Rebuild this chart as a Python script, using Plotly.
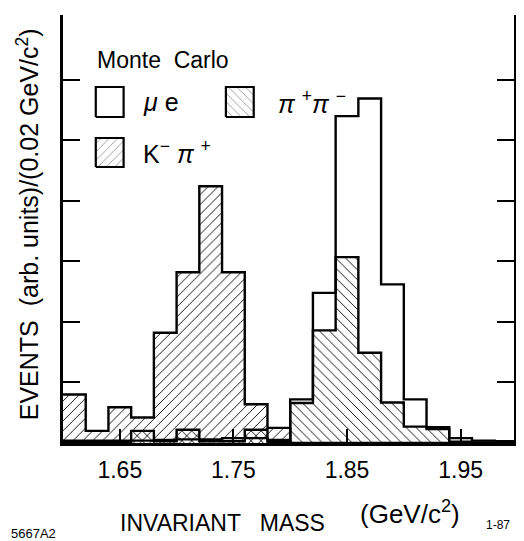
import plotly.graph_objects as go

# ---- data (bin edges in GeV/c^2, heights in arbitrary units) ----
edges = [1.60, 1.62, 1.64, 1.66, 1.68, 1.70, 1.72, 1.74, 1.76, 1.78, 1.80,
         1.82, 1.84, 1.86, 1.88, 1.90, 1.92, 1.94, 1.96, 1.98, 2.00]
mu_e = [0.04, 0.04, 0.04, 0.04, 0.05, 0.06, 0.06, 0.08, 0.08, 0.05,
        0.72, 2.48, 5.40, 5.69, 2.62, 0.72, 0.26, 0.08, 0.04, 0.03]
pipi = [0.02, 0.02, 0.02, 0.20, 0.03, 0.22, 0.03, 0.03, 0.22, 0.02,
        0.66, 1.86, 3.07, 1.49, 0.67, 0.27, 0.23, 0.02, 0.01, 0.01]
kpi = [0.80, 0.20, 0.59, 0.42, 1.82, 2.82, 4.24, 2.82, 0.64, 0.25,
       0.0, 0.0, 0.0, 0.0, 0.0, 0.0, 0.0, 0.0, 0.0, 0.0]
xtick_vals = [1.65, 1.75, 1.85, 1.95]
xtick_text = ["1.65", "1.75", "1.85", "1.95"]
top_ticks = [1.65, 1.70, 1.75, 1.80, 1.85, 1.90, 1.95]
ytick_vals = [1, 2, 3, 4, 5, 6]

FONT = "Liberation Sans"
centers = [(a + b) / 2 for a, b in zip(edges[:-1], edges[1:])]
widths = [b - a for a, b in zip(edges[:-1], edges[1:])]

fig = go.Figure()


def hatch_bar(vals, shape, size):
    return go.Bar(
        x=centers, y=vals, width=widths, showlegend=False, hoverinfo="skip",
        marker=dict(color="rgba(0,0,0,0)", line=dict(width=0),
                    pattern=dict(shape=shape, fgcolor="black",
                                 bgcolor="rgba(0,0,0,0)", size=size,
                                 solidity=0.13, fillmode="replace")))


def step_line(vals, width):
    return go.Scatter(
        x=edges, y=list(vals) + [vals[-1]], mode="lines", line_shape="hv",
        line=dict(color="black", width=width), showlegend=False,
        hoverinfo="skip")


fig.add_trace(hatch_bar(kpi, "/", 7))
fig.add_trace(hatch_bar(pipi, "\\", 7))
fig.add_trace(step_line(kpi, 2.4))
fig.add_trace(step_line(pipi, 2.4))
fig.add_trace(step_line(mu_e, 2.4))


# ---- legend key boxes on an auxiliary unit axis (overlaying the plot) ----
def key_box(x0, x1, y0, y1, shape):
    fp = dict(shape=shape, fgcolor="black", bgcolor="white", size=6,
              solidity=0.12) if shape else None
    return go.Scatter(
        x=[x0, x1, x1, x0, x0], y=[y0, y0, y1, y1, y0], mode="lines",
        fill="toself", fillcolor="white", fillpattern=fp,
        line=dict(color="black", width=2.2), xaxis="x3", yaxis="y3",
        showlegend=False, hoverinfo="skip")


fig.add_trace(key_box(0.0727, 0.1344, 0.7617, 0.8318, ""))
fig.add_trace(key_box(0.3612, 0.4229, 0.7617, 0.8318, "\\"))
fig.add_trace(key_box(0.0727, 0.1344, 0.6449, 0.7126, "/"))

axis_common = dict(showgrid=False, zeroline=False, showline=True,
                   linecolor="black", linewidth=2.5, ticks="inside",
                   tickcolor="black", tickwidth=2)

# page body has an 8px margin: shrink the figure so it fits the window
fig.update_layout(
    width=516, height=533,
    margin=dict(l=55, r=7, t=7, b=98),
    paper_bgcolor="white", plot_bgcolor="white",
    barmode="overlay", bargap=0,
    font=dict(family=FONT, color="black"),
    xaxis=dict(range=[1.60, 1.997], tickvals=xtick_vals, ticktext=xtick_text,
               ticklen=14, tickfont=dict(size=23, family=FONT),
               ticklabelstandoff=5, **axis_common),
    xaxis2=dict(range=[1.60, 1.997], overlaying="x", side="top",
                tickvals=top_ticks, ticklen=15, showticklabels=False,
                anchor="y", **axis_common),
    yaxis=dict(range=[0, 7.07], tickvals=ytick_vals, ticklen=17,
               showticklabels=False, mirror="ticks", **axis_common),
    xaxis3=dict(overlaying="x", range=[0, 1], visible=False, anchor="y3",
                fixedrange=True),
    yaxis3=dict(overlaying="y", range=[0, 1], visible=False, anchor="x3",
                fixedrange=True),
)

ann = [
    dict(text="EVENTS  (arb. units)/(0.02 GeV/c<sup>2</sup>)", x=-0.079,
         y=0.512, textangle=-90, font=dict(size=25), xanchor="center",
         yanchor="middle"),
    dict(text="Monte  Carlo", x=0.0705, y=0.894, font=dict(size=23),
         xanchor="left", yanchor="middle"),
    dict(text="<i>μ</i> e", x=0.174, y=0.797, font=dict(size=25),
         xanchor="left", yanchor="middle"),
    dict(text="<i>π</i> <sup>+</sup><i>π</i> <sup>−</sup>", x=0.4714,
         y=0.797, font=dict(size=25), xanchor="left", yanchor="middle"),
    dict(text="K<sup>−</sup> <i>π</i> <sup>+</sup>", x=0.174, y=0.68,
         font=dict(size=25), xanchor="left", yanchor="middle"),
    dict(text="INVARIANT   MASS", x=0.3546, y=-0.187, font=dict(size=23),
         xanchor="center", yanchor="middle"),
    dict(text="(GeV/c<sup>2</sup>)", x=0.7687, y=-0.163, font=dict(size=26),
         xanchor="center", yanchor="middle"),
    dict(text="5667A2", x=-0.119, y=-0.2126, font=dict(size=13),
         xanchor="left", yanchor="middle"),
    dict(text="1-87", x=0.934, y=-0.1916, font=dict(size=12),
         xanchor="left", yanchor="middle"),
]
for a in ann:
    fig.add_annotation(xref="paper", yref="paper", showarrow=False, **a)

fig.write_html("out.html")
